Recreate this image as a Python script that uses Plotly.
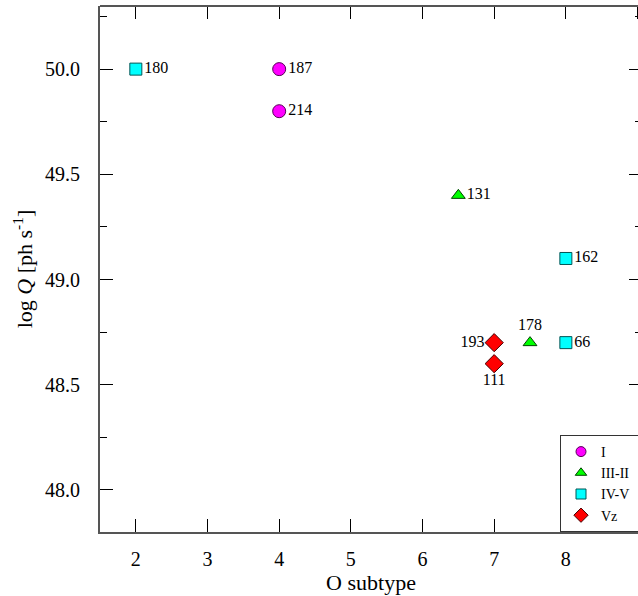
import plotly.graph_objects as go

# ---- data ----
groups = ["I", "III-II", "IV-V", "Vz"]
subtype_I = [4, 4]
logQ_I = [50.0, 49.8]
ids_I = ["187", "214"]

subtype_III = [6.5, 7.5]
logQ_III = [49.4, 48.7]
ids_III = ["131", "178"]

subtype_IV = [2, 8, 8]
logQ_IV = [50.0, 49.1, 48.7]
ids_IV = ["180", "162", "66"]

subtype_Vz = [7, 7]
logQ_Vz = [48.7, 48.6]
ids_Vz = ["193", "111"]

x_ticks = [2, 3, 4, 5, 6, 7, 8, 9]
y_ticks = [48.0, 48.5, 49.0, 49.5, 50.0]

FONT = "Liberation Serif"
PAD = "\u00a0" * 5

series = [
    ("I", subtype_I, logQ_I, ids_I, "circle", "#ff00ff", "#550055", 13, 10,
     ["middle right", "middle right"]),
    ("III-II", subtype_III, logQ_III, ids_III, "triangle-up", "#00ff00", "#004400", 12, 10,
     ["middle right", "top center"]),
    ("IV-V", subtype_IV, logQ_IV, ids_IV, "square", "#00ffff", "#005555", 12, 10,
     ["middle right", "middle right", "middle right"]),
    ("Vz", subtype_Vz, logQ_Vz, ids_Vz, "diamond", "#ff0000", "#440000", 14, 11,
     ["middle left", "bottom center"]),
]

fig = go.Figure()
for name, xs, ys, ids, sym, col, lc, sz, lsz, pos in series:
    fig.add_trace(go.Scatter(
        x=xs, y=ys, mode="markers+text", text=ids, textposition=pos,
        textfont=dict(family=FONT, size=16, color="black"),
        marker=dict(symbol=sym, size=sz, color=col, line=dict(color=lc, width=1)),
        showlegend=False, cliponaxis=False,
    ))
    fig.add_trace(go.Scatter(
        x=[None], y=[None], mode="markers", name=name + PAD,
        marker=dict(symbol=sym, size=lsz, color=col, line=dict(color=lc, width=1)),
    ))

# invisible trace for mirrored axes
fig.add_trace(go.Scatter(x=[None], y=[None], xaxis="x2", yaxis="y2", showlegend=False,
                         hoverinfo="skip"))

W, H = 642, 596
ML, MT, MB = 100, 6, 64
xr = [1.5, 1.5 + (W - ML) / 71.67]
yr = [47.8, 50.3]
minor_y = dict(ticks="inside", ticklen=7, dtick=0.25, tickcolor="black", tickwidth=1)
tickfont = dict(family=FONT, size=20, color="black")
titlefont = dict(family=FONT, size=22, color="black")

fig.update_layout(
    width=W, height=H,
    margin=dict(l=ML, r=0, t=MT, b=MB, autoexpand=False),
    paper_bgcolor="white", plot_bgcolor="white",
    font=dict(family=FONT, size=20, color="black"),
    xaxis=dict(
        range=xr, tickvals=x_ticks, ticks="inside", ticklen=13, tickwidth=1,
        tickcolor="black", showline=True, linecolor="#555555", linewidth=2,
        showgrid=False, zeroline=False, tickfont=tickfont,
        ticklabelstandoff=8,
        title=dict(text="O subtype", font=titlefont, standoff=6),
    ),
    yaxis=dict(
        range=yr, tickvals=y_ticks, tickformat=".1f", ticks="inside", ticklen=13,
        tickwidth=1, tickcolor="black", showline=True, linecolor="#555555",
        linewidth=2, showgrid=False, zeroline=False, tickfont=tickfont,
        minor=minor_y, ticklabelstandoff=14,
        title=dict(text="log <i>Q</i> [ph s<sup>-1</sup>]", font=titlefont, standoff=6),
    ),
    xaxis2=dict(
        range=xr, overlaying="x", side="top", anchor="y", tickvals=x_ticks,
        ticks="inside", ticklen=13, tickwidth=1, tickcolor="black",
        showticklabels=False, showline=False, showgrid=False, zeroline=False,
    ),
    yaxis2=dict(
        range=yr, overlaying="y", side="right", anchor="x", tickvals=y_ticks,
        ticks="inside", ticklen=13, tickwidth=1, tickcolor="black",
        showticklabels=False, showline=False, showgrid=False, zeroline=False,
        minor=minor_y,
    ),
    legend=dict(
        x=(560 - ML) / (W - ML), xanchor="left", y=0, yanchor="bottom",
        bgcolor="white", bordercolor="#333333", borderwidth=1,
        font=dict(family=FONT, size=14, color="black"),
        itemwidth=30, tracegroupgap=0,
    ),
)

# top spine
fig.update_layout(shapes=[dict(type="line", xref="paper", yref="paper",
                               x0=0, x1=1, y0=1, y1=1,
                               line=dict(color="#555555", width=2))])

fig.write_html(
    "out.html",
    config={"displayModeBar": False},
    post_script="document.body.style.margin='0';document.body.style.overflow='hidden';",
)
